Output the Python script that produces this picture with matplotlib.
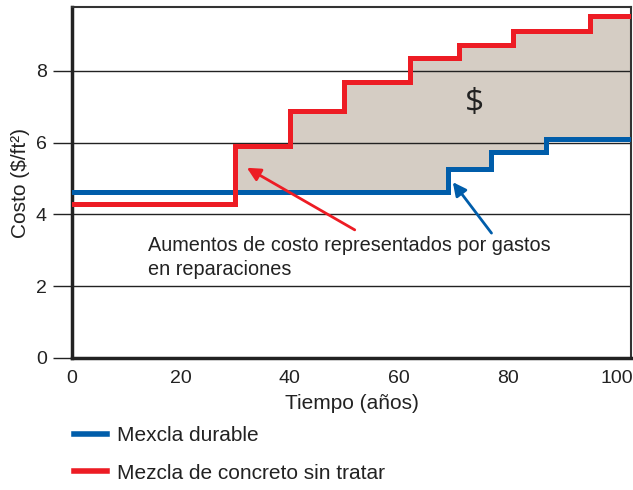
import numpy as np
from matplotlib import pyplot as plt
from matplotlib.lines import Line2D

# step data (year where level starts, cost)
red_x = [0, 30, 40, 50, 62, 71, 81, 95, 103]
red_y = [4.3, 5.9, 6.88, 7.7, 8.35, 8.73, 9.12, 9.52, 9.52]
blue_x = [0, 69, 77, 87, 103]
blue_y = [4.63, 5.27, 5.73, 6.1, 6.1]

xticks = [0, 20, 40, 60, 80, 100]
yticks = [0, 2, 4, 6, 8]

RED = "#ed1c24"
BLUE = "#005daa"
FILL = "#d5cdc4"

plt.rcParams["font.family"] = ["Liberation Sans", "DejaVu Sans"]

fig = plt.figure(figsize=(6.33, 4.9), dpi=100)
ax = fig.add_axes([0.1137, 0.2694, 0.8831, 0.7163])

# fill between the two step curves
xs = np.linspace(0, 103, 2061)
r = np.array(red_y)[np.searchsorted(red_x, xs, side="right") - 1]
b = np.array(blue_y)[np.searchsorted(blue_x, xs, side="right") - 1]
ax.fill_between(xs, b, r, where=r >= b, color=FILL, lw=0, zorder=1)

for yv in yticks[1:]:
    ax.axhline(yv, color="#222222", lw=1.0, zorder=2)

ax.step(red_x, red_y, where="post", color=RED, lw=3.6, zorder=4,
        solid_joinstyle="miter")
ax.step(blue_x, blue_y, where="post", color=BLUE, lw=3.6, zorder=3,
        solid_joinstyle="miter")

ax.set_xlim(0, 102.6)
ax.set_ylim(0, 9.78)
ax.set_xticks(xticks)
ax.set_yticks(yticks)
ax.tick_params(axis="x", length=0, labelsize=14, pad=9, colors="#222222")
ax.tick_params(axis="y", length=14, width=1.0, labelsize=14, pad=4, colors="#222222")
for s in ["left", "bottom"]:
    ax.spines[s].set_linewidth(2.5)
    ax.spines[s].set_color("#222222")
for s in ["top", "right"]:
    ax.spines[s].set_linewidth(1.5)
    ax.spines[s].set_color("#333333")

ax.set_xlabel("Tiempo (años)", fontsize=15, labelpad=5, color="#222222")
ax.set_ylabel("Costo ($/ft²)", fontsize=15, labelpad=4, color="#222222")

ax.text(73.8, 7.1, "$", fontsize=24, ha="center", va="center", color="#222222",
        family=["Open Sans", "DejaVu Sans"], zorder=5)

ax.text(14, 2.8, "Aumentos de costo representados por gastos\nen reparaciones",
        fontsize=14.3, ha="left", va="center", linespacing=1.35, color="#222222", zorder=5)

ax.annotate("", xy=(32.1, 5.3), xytext=(51.9, 3.57),
            arrowprops=dict(arrowstyle="-|>", color=RED, lw=2, mutation_scale=20,
                            shrinkA=0, shrinkB=0), zorder=5)
ax.annotate("", xy=(69.9, 4.9), xytext=(77, 3.48),
            arrowprops=dict(arrowstyle="-|>", color=BLUE, lw=2, mutation_scale=20,
                            shrinkA=0, shrinkB=0), zorder=5)

# legend below the chart
h1 = Line2D([], [], color=BLUE, lw=4)
h2 = Line2D([], [], color=RED, lw=4)
leg = fig.legend([h1, h2], ["Mexcla durable", "Mezcla de concreto sin tratar"],
                 loc="upper left", bbox_to_anchor=(0.104, 0.148), frameon=False,
                 fontsize=15, handlelength=1.6, handletextpad=0.45, labelspacing=0.9,
                 borderaxespad=0)
for t in leg.get_texts():
    t.set_color("#222222")

fig.savefig("out.png", dpi=100)
